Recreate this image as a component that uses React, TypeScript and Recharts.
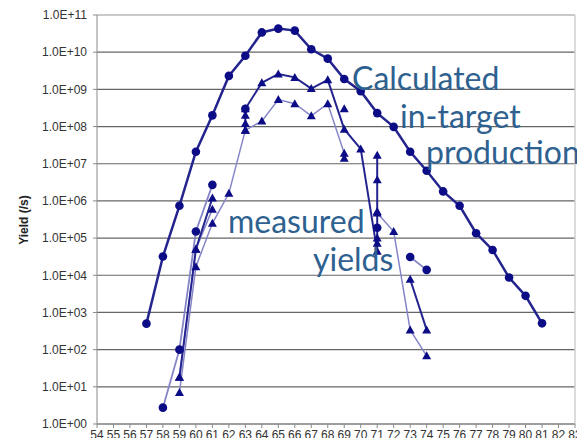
import { CartesianGrid, Line, LineChart, ReferenceLine, XAxis, YAxis } from 'recharts';

// mass number axis / yield decades
const X_TICKS = [54, 55, 56, 57, 58, 59, 60, 61, 62, 63, 64, 65, 66, 67, 68, 69, 70, 71, 72, 73, 74, 75, 76, 77, 78, 79, 80, 81, 82, 83];
const Y_TICKS = [1, 1e1, 1e2, 1e3, 1e4, 1e5, 1e6, 1e7, 1e8, 1e9, 1e10, 1e11];

// calculated in-target production
const calcMass = [57, 58, 59, 60, 61, 62, 63, 64, 65, 66, 67, 68, 69, 70, 71, 72, 73, 74, 75, 76, 77, 78, 79, 80, 81];
const calcYield = [500, 3.2e4, 7.4e5, 2.1e7, 2.0e8, 2.3e9, 8.0e9, 3.4e10, 4.3e10, 3.8e10, 1.2e10, 6.7e9, 1.9e9, 8.9e8, 2.3e8, 9.8e7, 2.1e7, 6.5e6, 1.8e6, 7.4e5, 1.35e5, 4.8e4, 8.7e3, 2.8e3, 5.1e2];

// measured yields (several runs)
const mainMass = [63, 63, 63, 63, 64, 65, 66, 67, 68, 69, 70, 71, 71, 71, 71, 71, 71];
const mainYield = [8e7, 1.2e8, 2e8, 3e8, 1.5e9, 2.6e9, 2.1e9, 1.05e9, 1.8e9, 8.5e7, 2.5e7, 4.4e4, 7.3e4, 1e5, 5.2e5, 3.7e6, 1.7e7];

const lightMass = [59, 60, 61, 62, 63, 64, 65, 66, 67, 68, 69, 69, 70, 71, 72, 73, 74];
const lightYield = [7, 1.7e4, 2.5e5, 1.6e6, 8e7, 1.4e8, 5.3e8, 4.1e8, 1.95e8, 4.1e8, 1.9e7, 1.4e7, null, 4.7e5, 1.5e5, 340, 68];

const earlyMass = [59, 60, 61];
const earlyYield = [18, 5e4, 1.2e6];
const earlyLightYield = [18, 5e4, 6e5];

const circMass = [58, 59, 60, 61];
const circYield = [2.75, 100, 1.5e5, 2.7e6];

const lateCircMass = [63, 64, 71, 72, 73, 74];
const lateCircYield = [3e8, null, 1.9e5, null, 3.1e4, 1.4e4];

const lateTriMass = [73, 74];
const lateTriYield = [7.8e3, 340];

const loneMass = [69];
const loneYield = [3e8];

const toPoints = (xs: number[], ys: (number | null)[]) => xs.map((x, i) => ({ x, y: ys[i] }));

const NAVY = '#0c0c86';
const THICK = '#24248e';
const LIGHT = '#8585c8';
const TEXT_BLUE = '#2e6190';

const fmtExp = (v: number) => {
  const e = Math.round(Math.log10(v));
  return `1.0E+${String(e).padStart(2, '0')}`;
};

function triangle(props: any) {
  const { cx, cy, index, value } = props;
  if (cx == null || cy == null || value == null) return <g key={`t${index}`} />;
  return (
    <polygon
      key={`t${index}`}
      points={`${cx},${cy - 4.5} ${cx + 4.5},${cy + 3.5} ${cx - 4.5},${cy + 3.5}`}
      fill={NAVY}
    />
  );
}

const circleDot = { r: 4.3, fill: NAVY, stroke: NAVY, strokeWidth: 0 };
const tickStyle = { fontFamily: 'Liberation Sans, Arial, sans-serif', fontSize: 12, fill: '#333' };

export default function App() {
  return (
    <div style={{ margin: -8, width: 585, height: 446, position: 'relative', background: '#fff' }}>
      <LineChart width={585} height={446} margin={{ top: 15, right: 10, bottom: 0, left: 0 }}>
        <CartesianGrid vertical={false} stroke="#666" strokeWidth={1.2} />
        <XAxis
          type="number"
          dataKey="x"
          domain={[54, 83]}
          ticks={X_TICKS}
          interval={0}
          height={22}
          tickSize={4}
          tickMargin={2}
          stroke="#8a8a8a"
          tick={tickStyle}
          allowDuplicatedCategory
        />
        <YAxis
          type="number"
          dataKey="y"
          scale="log"
          domain={[1, 1e11]}
          ticks={Y_TICKS}
          interval={0}
          allowDataOverflow
          width={97}
          tickSize={4}
          tickMargin={6}
          stroke="#8a8a8a"
          tick={tickStyle}
          tickFormatter={fmtExp}
        />
        <ReferenceLine y={1e11} stroke="#d0d0d0" strokeWidth={1.5} />
        <ReferenceLine x={83} stroke="#d0d0d0" strokeWidth={1.5} />

        <Line data={toPoints(lightMass, lightYield)} dataKey="y" stroke={LIGHT} strokeWidth={1.5} dot={triangle} isAnimationActive={false} />
        <Line data={toPoints(earlyMass, earlyLightYield)} dataKey="y" stroke={LIGHT} strokeWidth={1.5} dot={triangle} isAnimationActive={false} />
        <Line data={toPoints(circMass, circYield)} dataKey="y" stroke={LIGHT} strokeWidth={1.8} dot={circleDot} isAnimationActive={false} />
        <Line data={toPoints(earlyMass, earlyYield)} dataKey="y" stroke={THICK} strokeWidth={2} dot={triangle} isAnimationActive={false} />
        <Line data={toPoints(mainMass, mainYield)} dataKey="y" stroke={THICK} strokeWidth={2} dot={triangle} isAnimationActive={false} />
        <Line data={toPoints(lateTriMass, lateTriYield)} dataKey="y" stroke={THICK} strokeWidth={2} dot={triangle} isAnimationActive={false} />
        <Line data={toPoints(loneMass, loneYield)} dataKey="y" stroke="none" dot={triangle} isAnimationActive={false} />
        <Line data={toPoints(lateCircMass, lateCircYield)} dataKey="y" stroke={LIGHT} strokeWidth={1.8} dot={circleDot} isAnimationActive={false} />
        <Line data={toPoints(calcMass, calcYield)} dataKey="y" stroke={THICK} strokeWidth={2.5} dot={circleDot} isAnimationActive={false} />
      </LineChart>

      <svg width={585} height={446} style={{ position: 'absolute', left: 0, top: 0, pointerEvents: 'none' }}>
        <text x={-12} y={120} fontSize={26} fill="#ff0000" fontFamily="Liberation Sans, Arial, sans-serif">n</text>
        <text
          transform="translate(28,220) rotate(-90)"
          textAnchor="middle"
          fontSize={12}
          fontWeight="bold"
          fill="#222"
          fontFamily="Liberation Sans, Arial, sans-serif"
        >
          Yield (/s)
        </text>
        <g fontFamily="Lato, 'Open Sans', sans-serif" fontSize={32} fill={TEXT_BLUE}>
          <text x={352} y={90}>Calculated</text>
          <text x={400} y={128}>in-target</text>
          <text x={426} y={164}>production</text>
          <text x={228} y={233}>measured</text>
          <text x={313} y={271}>yields</text>
        </g>
      </svg>
    </div>
  );
}
